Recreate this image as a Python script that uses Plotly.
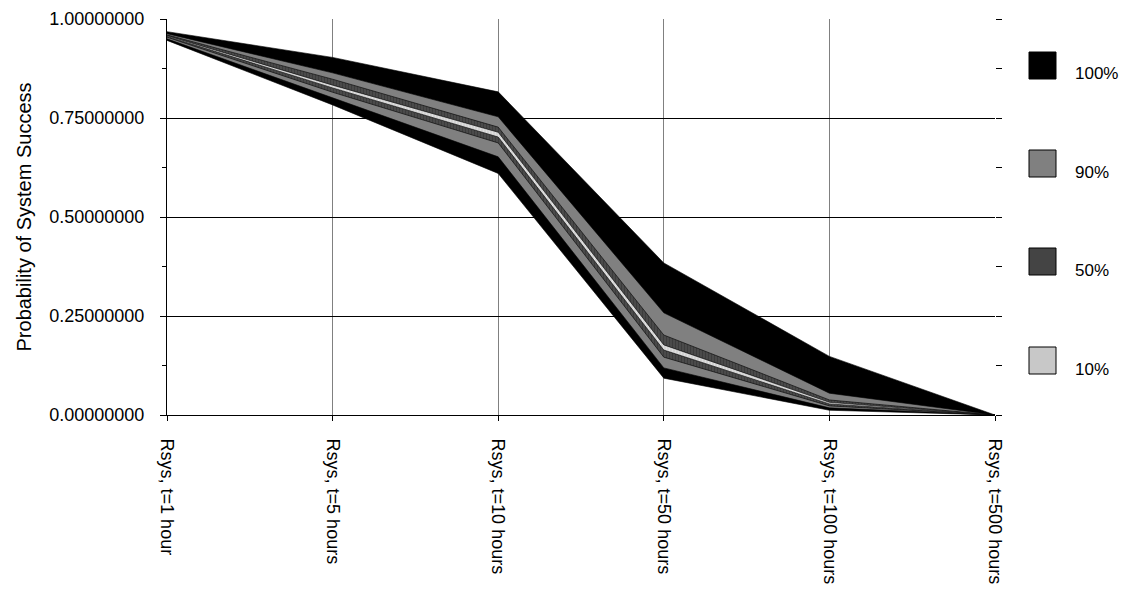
import plotly.graph_objects as go

# Category labels along the x axis
categories = ["Rsys, t=1 hour", "Rsys, t=5 hours", "Rsys, t=10 hours",
              "Rsys, t=50 hours", "Rsys, t=100 hours", "Rsys, t=500 hours"]

# Percentile envelopes of system reliability at each time
p_min = [0.946, 0.783, 0.610, 0.093, 0.012, 0.0]
p_05 = [0.950, 0.800, 0.652, 0.119, 0.018, 0.0]
p_25 = [0.954, 0.815, 0.687, 0.146, 0.023, 0.0]
p_45 = [0.956, 0.826, 0.702, 0.164, 0.028, 0.0]
p_55 = [0.958, 0.833, 0.714, 0.177, 0.032, 0.0]
p_75 = [0.960, 0.848, 0.727, 0.202, 0.038, 0.0]
p_95 = [0.963, 0.864, 0.753, 0.258, 0.055, 0.0]
p_max = [0.968, 0.903, 0.816, 0.384, 0.148, 0.0]

band_labels = ["100%", "90%", "50%", "10%"]
band_colors = ["#000000", "#808080", "#444444", "#c8c8c8"]

FONT = "Liberation Sans, Arial, sans-serif"

W, H = 1125, 597
L, R, T, B = 167, 995, 19, 415

fig = go.Figure()

xs = list(range(len(categories)))
xpoly = xs + xs[::-1]

bands = [
    (p_max, p_min, band_colors[0], None),
    (p_95, p_05, band_colors[1], None),
    (p_75, p_25, band_colors[2], dict(shape="|", bgcolor="#4a4a4a", fgcolor="#2e2e2e", size=3, solidity=0.35)),
    (p_55, p_45, band_colors[3], dict(shape="|", bgcolor="#d4d4d4", fgcolor="#ececec", size=3, solidity=0.35)),
]
for (up, lo, col, pat), name in zip(bands, band_labels):
    kw = dict(fillcolor=col)
    if pat is not None:
        kw["fillpattern"] = pat
    fig.add_trace(go.Scatter(
        x=xpoly, y=up + lo[::-1], mode="lines", fill="toself",
        line=dict(color="#000000", width=0.6), name=name,
        hoverinfo="skip", showlegend=False, **kw))

# invisible trace so the right-hand tick axis is drawn
fig.add_trace(go.Scatter(x=[0], y=[0], yaxis="y2", mode="markers",
                         marker=dict(opacity=0), showlegend=False, hoverinfo="skip"))

# legend swatches drawn in paper space
def px_x(p):
    return (p - L) / (R - L)

def px_y(p):
    return (B - p) / (B - T)

swatch_tops = [52, 150, 248, 347]
for lab, col, top in zip(band_labels, band_colors, swatch_tops):
    fig.add_shape(type="rect", xref="paper", yref="paper",
                  x0=px_x(1029), x1=px_x(1056), y0=px_y(top + 27), y1=px_y(top),
                  fillcolor=col, line=dict(color="#000000", width=1))
    fig.add_annotation(xref="paper", yref="paper", x=px_x(1073), y=px_y(top + 22),
                       text=lab, showarrow=False, xanchor="left", yanchor="middle",
                       font=dict(family=FONT, size=17, color="#000000"))

fig.update_layout(
    width=W, height=H,
    margin=dict(l=L, r=W - R, t=T, b=H - B, pad=0, autoexpand=False),
    paper_bgcolor="white", plot_bgcolor="white",
    font=dict(family=FONT, size=18, color="#000000"),
    xaxis=dict(
        type="linear", range=[0, len(categories) - 1], automargin=False,
        tickmode="array", tickvals=xs, ticktext=categories,
        tickangle=90, ticks="outside", ticklen=5, tickcolor="#000000",
        showgrid=True, gridcolor="#808080", gridwidth=1,
        showline=True, linecolor="#000000", linewidth=1,
        zeroline=False, ticklabelstandoff=14,
        tickfont=dict(family=FONT, size=18),
    ),
    yaxis=dict(
        range=[0, 1], automargin=False,
        tickmode="array", tickvals=[0, 0.25, 0.5, 0.75, 1.0],
        tickformat=".8f", ticks="outside", ticklen=6, tickcolor="#000000",
        minor=dict(dtick=0.125, ticks="outside", ticklen=4, tickcolor="#000000", showgrid=False),
        showgrid=True, gridcolor="#000000", gridwidth=1,
        showline=True, linecolor="#000000", linewidth=1, zeroline=False,
        title=dict(text="Probability of System Success", standoff=12,
                   font=dict(family=FONT, size=20)),
        tickfont=dict(family=FONT, size=18),
        ticklabelstandoff=12,
    ),
    yaxis2=dict(
        range=[0, 1], overlaying="y", side="right", anchor="x", automargin=False,
        tickmode="linear", tick0=0, dtick=0.125, ticks="outside", ticklen=6,
        tickcolor="#000000", showticklabels=False, showgrid=False,
        showline=False, zeroline=False,
    ),
)

fig.write_html("out.html")
